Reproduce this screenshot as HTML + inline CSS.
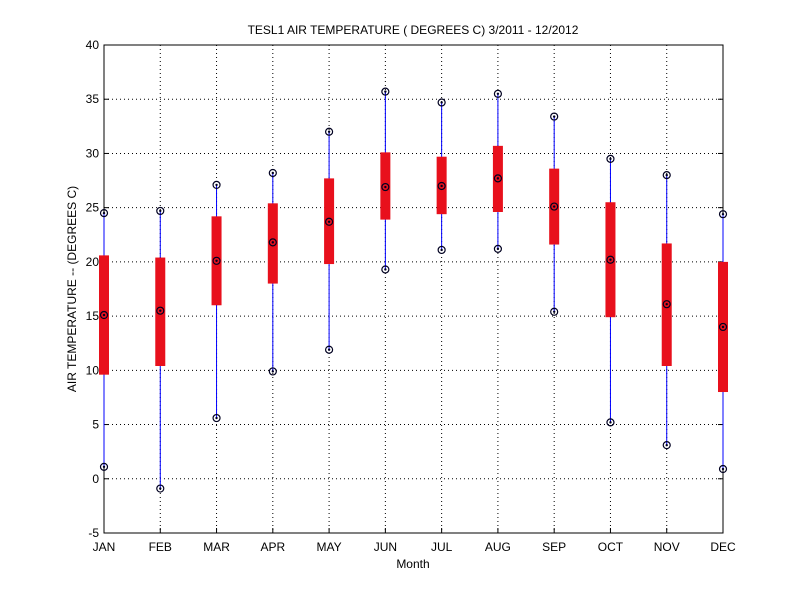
<!DOCTYPE html>
<html><head><meta charset="utf-8"><style>
body{margin:0;background:#fff;}
svg text{font-family:"Liberation Sans",sans-serif;font-size:12px;fill:#000;}
</style></head><body>
<svg id="chart" width="800" height="600" xmlns="http://www.w3.org/2000/svg">
<rect width="800" height="600" fill="#fff"/>
<g id="grid"></g>
<rect x="104" y="45" width="619" height="488" fill="none" stroke="#000" stroke-width="1"/>
<g id="axes"></g>
<g id="marks"></g>
<text x="413" y="34" text-anchor="middle">TESL1  AIR TEMPERATURE ( DEGREES C) 3/2011 - 12/2012</text>
<text x="413" y="568" text-anchor="middle">Month</text>
<text transform="translate(76,289) rotate(-90)" text-anchor="middle">AIR TEMPERATURE -- (DEGREES C)</text>
</svg>
<script>
const months=["JAN","FEB","MAR","APR","MAY","JUN","JUL","AUG","SEP","OCT","NOV","DEC"];
const maxV=[24.5,24.7,27.1,28.2,32.0,35.7,34.7,35.5,33.4,29.5,28.0,24.4];
const q3V=[20.6,20.4,24.2,25.4,27.7,30.1,29.7,30.7,28.6,25.5,21.7,20.0];
const medV=[15.1,15.5,20.1,21.8,23.7,26.9,27.0,27.7,25.1,20.2,16.1,14.0];
const q1V=[9.6,10.4,16.0,18.0,19.8,23.9,24.4,24.6,21.6,14.9,10.4,8.0];
const minV=[1.1,-0.9,5.6,9.9,11.9,19.3,21.1,21.2,15.4,5.2,3.1,0.9];
const yTicks=[-5,0,5,10,15,20,25,30,35,40];
const NS="http://www.w3.org/2000/svg";
const x=i=>104+i*(619/11);
const y=v=>533-(v+5)*(488/45);
function mk(tag,attrs,parent){const e=document.createElementNS(NS,tag);for(const k in attrs)e.setAttribute(k,attrs[k]);parent.appendChild(e);return e;}
const grid=document.getElementById('grid'),marks=document.getElementById('marks'),axes=document.getElementById('axes');
yTicks.forEach(t=>{
  const l=mk('line',{x1:104,x2:723,y1:y(t),y2:y(t),stroke:'#000','stroke-dasharray':'1,3','stroke-width':1},grid);
  
  
  const tk=mk('line',{x1:104,x2:109,y1:y(t),y2:y(t),stroke:'#000'},axes);
  
  
  const tk2=mk('line',{x1:718,x2:723,y1:y(t),y2:y(t),stroke:'#000'},axes);
  
  
  const tx=mk('text',{x:99,y:y(t)+4,'text-anchor':'end'},axes);tx.textContent=t;
  
  
});
months.forEach((m,i)=>{
  const cx=x(i);
  const l=mk('line',{x1:cx,x2:cx,y1:45,y2:533,stroke:'#000','stroke-dasharray':'1,3'},grid);
  
  
  const tk=mk('line',{x1:cx,x2:cx,y1:528,y2:533,stroke:'#000'},axes);
  
  
  const tx=mk('text',{x:cx,y:551,'text-anchor':'middle'},axes);tx.textContent=m;
  
  
  const g=mk('g',{},marks);
  
  
  mk('line',{x1:cx,x2:cx,y1:y(maxV[i]),y2:y(minV[i]),stroke:'#0000ff','stroke-width':1},g);
  mk('rect',{x:cx-5,y:y(q3V[i]),width:10,height:y(q1V[i])-y(q3V[i]),fill:'#e8101c'},g);
  [maxV[i],medV[i],minV[i]].forEach(v=>{
    mk('circle',{cx:cx,cy:y(v),r:3.5,fill:'none',stroke:'#000020','stroke-width':1.2},g);
    mk('circle',{cx:cx,cy:y(v),r:1.2,fill:'#000020'},g);
  });
});
</script>
</body></html>
